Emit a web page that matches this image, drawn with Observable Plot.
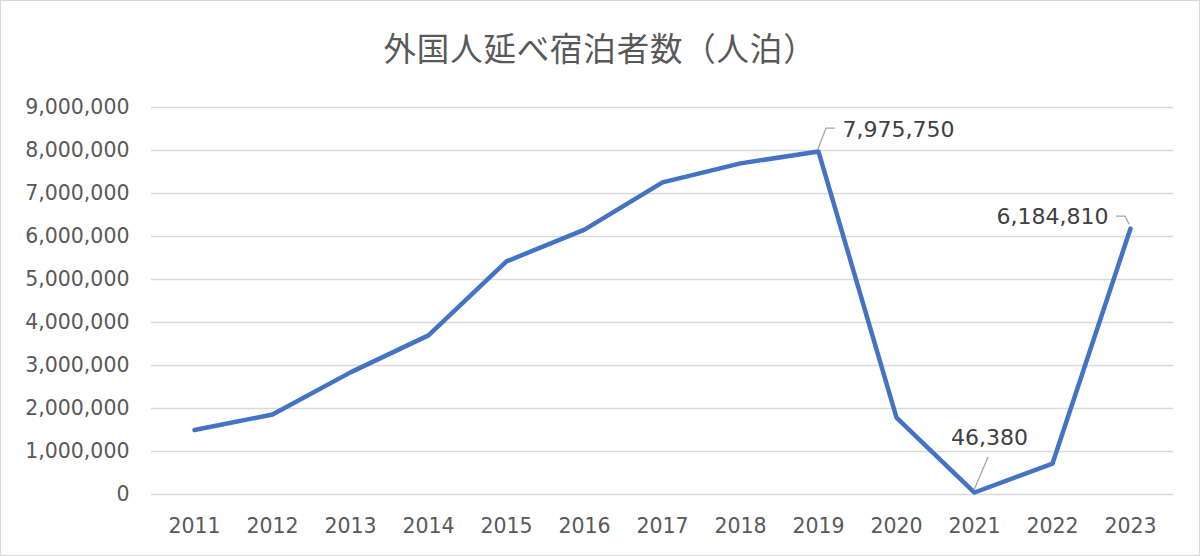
<!DOCTYPE html>
<html><head><meta charset="utf-8">
<script src="https://cdn.jsdelivr.net/npm/d3@7"></script>
<script src="https://cdn.jsdelivr.net/npm/@observablehq/plot@0.6"></script>
<style>
html,body{margin:0;padding:0;background:#fff;}
#wrap{position:relative;width:1198px;height:554px;border:1px solid #d9d9d9;overflow:hidden;font-family:"Noto Sans CJK JP","Noto Sans",sans-serif;}
#title{height:89px;line-height:92px;text-align:center;font-size:32.5px;letter-spacing:0.8px;color:#595959;}
svg{display:block;}
</style></head>
<body><div id="wrap"><div id="title">外国人延べ宿泊者数（人泊）</div><div id="chart"></div></div>
<script>
const years = ["2011","2012","2013","2014","2015","2016","2017","2018","2019","2020","2021","2022","2023"];
const guests = [1500000,1860000,2840000,3700000,5420000,6160000,7260000,7700000,7975750,1790000,46380,720000,6184810];
const yTicks = [0,1000000,2000000,3000000,4000000,5000000,6000000,7000000,8000000,9000000];
const labeledYears = ["2019","2021","2023"];

const data = years.map((y,i)=>({year:y, value:guests[i]}));
const labeled = data.filter(d=>labeledYears.includes(d.year));
const fmt = d3.format(",");

const plot = Plot.plot({
  width:1198, height:465,
  marginTop:17, marginBottom:61, marginLeft:150, marginRight:26,
  style:{fontFamily:'"DejaVu Sans",Verdana,sans-serif', fontSize:"20.5px", color:"#595959", background:"#fff"},
  x:{type:"point", domain:years, padding:0.5, label:null, tickSize:0, tickPadding:24},
  y:{domain:[0,9000000], ticks:yTicks, tickFormat:fmt, label:null, tickSize:0, tickPadding:22},
  marks:[
    Plot.ruleY(yTicks,{stroke:"#d9d9d9", strokeWidth:1.5}),
    Plot.line(data,{x:"year", y:"value", stroke:"#4472C4", strokeWidth:4.5, strokeLinejoin:"round", strokeLinecap:"round"}),
    Plot.text(labeled.filter(d=>d.year==="2019"),{x:"year",y:"value",text:d=>fmt(d.value),textAnchor:"start",dx:24,dy:-22,fill:"#404040",fontSize:22}),
    Plot.text(labeled.filter(d=>d.year==="2021"),{x:"year",y:"value",text:d=>fmt(d.value),textAnchor:"middle",dx:15,dy:-55,fill:"#404040",fontSize:22}),
    Plot.text(labeled.filter(d=>d.year==="2023"),{x:"year",y:"value",text:d=>fmt(d.value),textAnchor:"end",dx:-22,dy:-12,fill:"#404040",fontSize:22})
  ]
});
document.getElementById("chart").appendChild(plot);

// leader lines through the plot's own scales
const sx = plot.scale("x"), sy = plot.scale("y");
const svg = d3.select(plot);
const leaders = {
  "2019": (x,y)=>`M${x},${y-2}L${x+8},${y-23}L${x+17},${y-23}`,
  "2021": (x,y)=>`M${x},${y-2}L${x+14},${y-35}`,
  "2023": (x,y)=>`M${x-1},${y-4}L${x-5},${y-12}L${x-14},${y-12}`
};
for (const d of labeled) {
  const x = sx.apply(d.year), y = sy.apply(d.value);
  svg.append("path").attr("d", leaders[d.year](x,y)).attr("fill","none").attr("stroke","#a6a6a6").attr("stroke-width",1.3);
}
</script></body></html>
